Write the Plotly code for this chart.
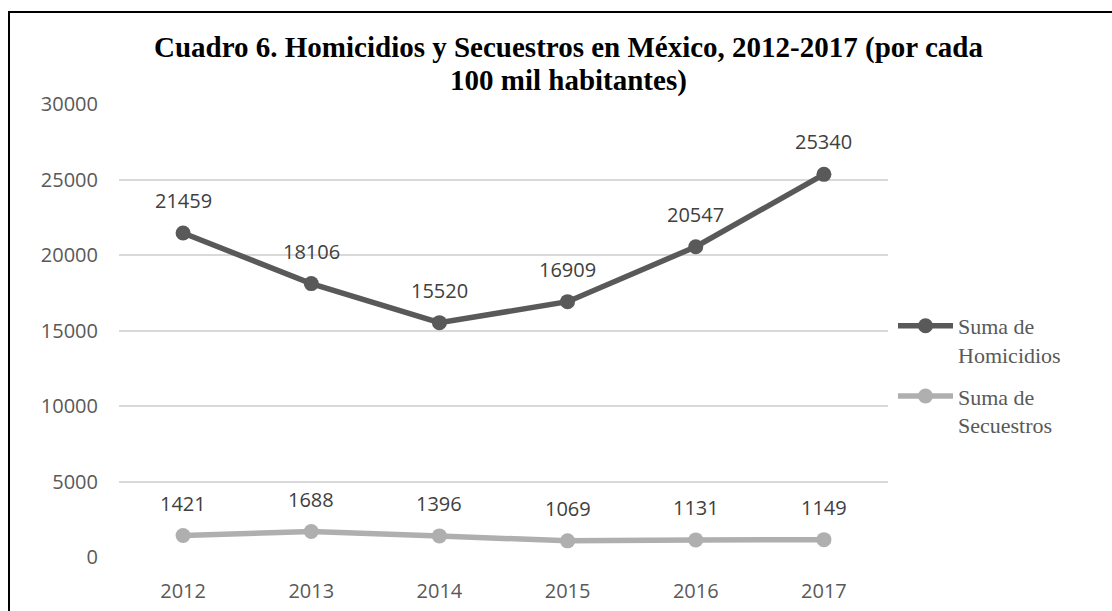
import plotly.graph_objects as go

years = ["2012", "2013", "2014", "2015", "2016", "2017"]
homicidios = [21459, 18106, 15520, 16909, 20547, 25340]
secuestros = [1421, 1688, 1396, 1069, 1131, 1149]
y_ticks = [0, 5000, 10000, 15000, 20000, 25000, 30000]
title_lines = ["Cuadro 6. Homicidios y Secuestros en México, 2012-2017 (por cada",
               "100 mil habitantes)"]

W, H = 1112, 611
L, R, T, B = 119, 224, 104, 54
pw, ph = W - L - R, H - T - B

DARK, LIGHT = "#595959", "#afafaf"
SANS = "Open Sans, sans-serif"
SERIF = "Liberation Serif, Times New Roman, serif"

fig = go.Figure()
for name, vals, col in [("Suma de<br>Homicidios", homicidios, DARK),
                        ("Suma de<br>Secuestros", secuestros, LIGHT)]:
    fig.add_trace(go.Scatter(
        x=years, y=vals, mode="lines+markers", name=name, legendgroup=name,
        line=dict(color=col, width=5.5), marker=dict(color=col, size=15),
        cliponaxis=False, hoverinfo="skip",
    ))
    for i, v in enumerate(vals):
        fig.add_annotation(x=i, y=v, xref="x", yref="y", text=str(v), showarrow=False,
                           yanchor="bottom", yshift=17,
                           font=dict(family=SANS, size=20, color="#404040"))

def py(pix):
    return (H - B - pix) / ph

def px(pix):
    return (pix - L) / pw

# title as two lines (tight line spacing as in the reference)
for line, base in zip(title_lines, [66, 99]):
    fig.add_annotation(text="<b>" + line + "</b>", xref="paper", yref="paper",
                       x=px(568), y=py(base), xanchor="center", yanchor="bottom",
                       showarrow=False,
                       font=dict(family=SERIF, size=29, color="black"))

fig.update_layout(
    width=W, height=H,
    margin=dict(l=L, r=R, t=T, b=B, autoexpand=False),
    paper_bgcolor="white", plot_bgcolor="white",
    xaxis=dict(
        type="category", showgrid=False, zeroline=False, showline=False,
        automargin=False,
        tickfont=dict(family=SANS, size=20, color=DARK),
        ticks="", range=[-0.5, 5.5], ticklabelstandoff=20,
    ),
    yaxis=dict(
        range=[0, 30000], tickvals=y_ticks, tickformat="d", automargin=False,
        showgrid=True, gridcolor="#d9d9d9", gridwidth=2,
        zeroline=False, showline=False, ticks="", ticklabelstandoff=20,
        tickfont=dict(family=SANS, size=20, color=DARK),
    ),
    legend=dict(
        x=px(893), xanchor="left", y=py(305), yanchor="top",
        valign="top", tracegroupgap=10, itemwidth=55,
        font=dict(family=SERIF, size=22, color=DARK),
        bgcolor="rgba(0,0,0,0)",
    ),
    showlegend=True,
    hovermode=False,
)

# outer border (left and top visible)
fig.add_shape(
    type="rect", xref="paper", yref="paper",
    x0=px(9), x1=px(1140), y0=py(650), y1=py(12),
    line=dict(color="black", width=2), fillcolor="rgba(0,0,0,0)", layer="below",
)

fig.write_html("out.html", config={"displayModeBar": False},
               post_script="document.body.style.margin='0';")
